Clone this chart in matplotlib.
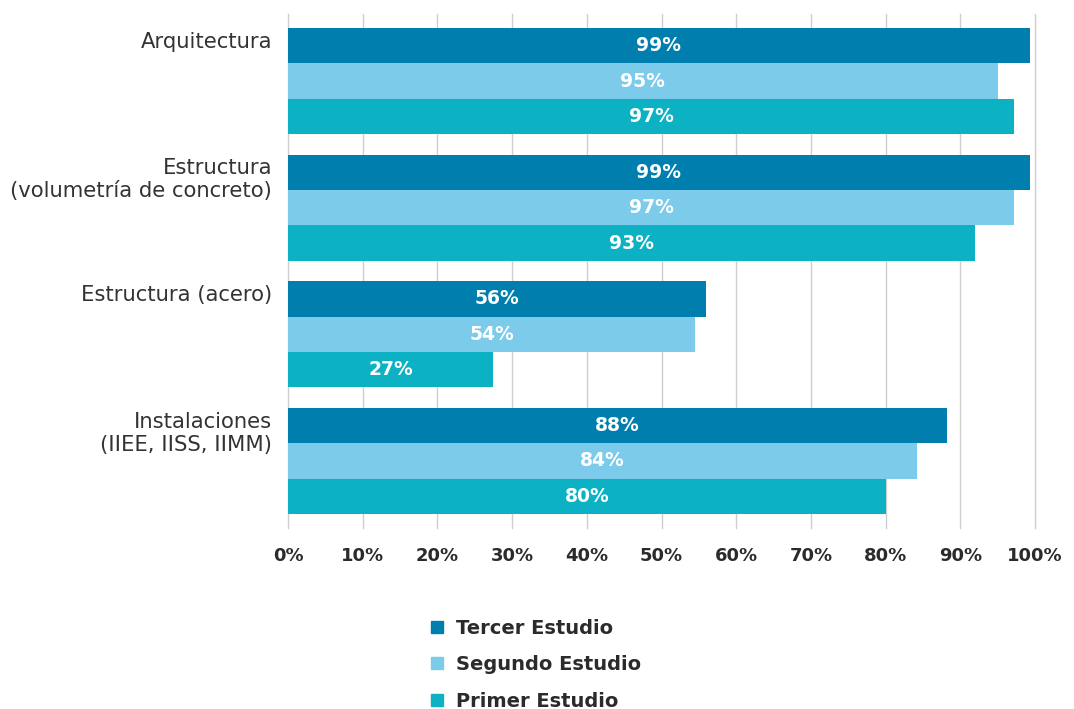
import matplotlib.pyplot as plt
import numpy as np
from matplotlib.lines import Line2D

plt.rcParams['font.family'] = ['DejaVu Sans']

# datos
categorias = ['Arquitectura', 'Estructura\n(volumetría de concreto)',
              'Estructura (acero)', 'Instalaciones\n(IIEE, IISS, IIMM)']
series = ['Tercer Estudio', 'Segundo Estudio', 'Primer Estudio']
tercer = [99.3, 99.3, 55.9, 88.2]
segundo = [95.0, 97.2, 54.5, 84.2]
primer = [97.2, 92.0, 27.4, 80.1]
etiq_tercer = ['99%', '99%', '56%', '88%']
etiq_segundo = ['95%', '97%', '54%', '84%']
etiq_primer = ['97%', '93%', '27%', '80%']
ticks = [0, 10, 20, 30, 40, 50, 60, 70, 80, 90, 100]

colores = ['#007FAE', '#7DCBEB', '#0CB2C4']
texto = '#2b2b2b'

fig = plt.figure(figsize=(10.74, 7.09), dpi=100)
ax = fig.add_axes([0.2682, 0.2553, 0.6955, 0.7250])

y = np.arange(len(categorias))
h = 0.28
datos = [(tercer, etiq_tercer, -h), (segundo, etiq_segundo, 0), (primer, etiq_primer, h)]
for (vals, etiq, off), c, nombre in zip(datos, colores, series):
    barras = ax.barh(y + off, vals, height=h, color=c, label=nombre, zorder=2)
    for b, t in zip(barras, etiq):
        ax.text(b.get_width() / 2, b.get_y() + b.get_height() / 2, t,
                ha='center', va='center', color='white',
                fontsize=13.5, fontweight='bold', zorder=3)

ax.set_xlim(0, 100)
ax.set_ylim(3.53, -0.53)
ax.set_xticks(ticks)
ax.set_xticklabels([f'{t}%' for t in ticks], fontsize=13, fontweight='bold', color=texto)
ax.tick_params(axis='x', length=0, pad=14)
ax.set_yticks([])
ax.grid(axis='x', color='#cfcfcf', linewidth=1.0, zorder=0)
for g in ax.get_xgridlines():
    g.set_clip_on(False)
for s in ax.spines.values():
    s.set_visible(False)

# etiquetas de categoria (primera linea alineada con la primera barra)
for yi, cat in zip(y, categorias):
    ax.text(-0.021, yi - h - 0.11, cat, transform=ax.get_yaxis_transform(),
            ha='right', va='top', fontsize=15.2, color='#333333',
            linespacing=1.2)

handles = [Line2D([], [], marker='s', linestyle='none', markersize=8.5,
                  markerfacecolor=c, markeredgecolor=c) for c in colores]
leg = fig.legend(handles, series, loc='upper center', bbox_to_anchor=(0.493, 0.152),
                 ncol=1, frameon=False, handletextpad=0.0, labelspacing=0.9,
                 prop={'size': 14, 'weight': 'bold'})
for t in leg.get_texts():
    t.set_color(texto)

fig.savefig('out.png', dpi=100)
